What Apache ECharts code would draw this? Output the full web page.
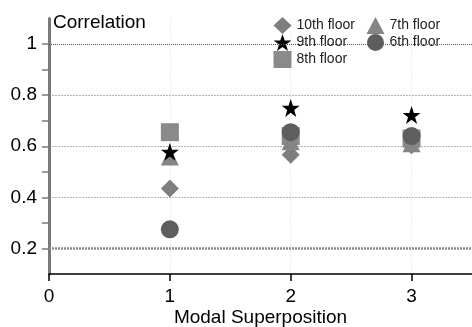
<!DOCTYPE html>
<html><head><meta charset="utf-8">
<script src="https://cdn.jsdelivr.net/npm/echarts@6/dist/echarts.min.js"></script>
<style>html,body{margin:0;padding:0;background:#fff}#c{width:472px;height:327px}</style>
</head><body><div id="c"></div>
<script>
const xValues = [1, 2, 3];
const floor10 = [0.435, 0.567, 0.604];
const floor9 = [0.578, 0.750, 0.722];
const floor8 = [0.655, 0.640, 0.630];
const floor7 = [0.560, 0.620, 0.612];
const floor6 = [0.275, 0.655, 0.640];
const yTickLabels = ['0.2', '0.4', '0.6', '0.8', '1'];
const yMinorTicks = [0.2, 0.3, 0.4, 0.5, 0.6, 0.7, 0.8, 0.9, 1.0];
const xTickLabels = ['0', '1', '2', '3'];
const refLines = [0.2, 1.0];

const STAR = 'path://M50,0 L61.8,34.5 L97.6,34.5 L68.5,55.9 L79.4,90.5 L50,69.1 L20.6,90.5 L31.5,55.9 L2.4,34.5 L38.2,34.5 Z';
const FONT = 'Liberation Sans, Arial, sans-serif';
const pts = arr => xValues.map((x, i) => [x, arr[i]]);

function s(name, data, symbol, size, color, z) {
  return { name, type: 'scatter', data: pts(data), symbol, symbolSize: size,
    itemStyle: { color, opacity: 1 }, z, emphasis: { disabled: true } };
}

const series = [
  s('10th floor', floor10, 'diamond', 18, '#7e7e7e', 2),
  s('8th floor', floor8, 'rect', 18, '#8a8a8a', 3),
  s('7th floor', floor7, 'triangle', 18, '#858585', 4),
  s('6th floor', floor6, 'circle', 18, '#5e5e5e', 5),
  s('9th floor', floor9, STAR, 18, '#000000', 6)
];
series[0].markLine = {
  silent: true, symbol: 'none', label: { show: false },
  data: [
    { yAxis: refLines[0], lineStyle: { color: '#8a8a8a', width: 2.5, type: [2, 1] } },
    { yAxis: refLines[1], lineStyle: { color: '#555', width: 1, type: [1, 1] } }
  ]
};

const chart = echarts.init(document.getElementById('c'), null, { renderer: 'canvas' });
const legendCommon = {
  orient: 'vertical', itemWidth: 18, itemHeight: 17, itemGap: 0,
  textStyle: { fontFamily: FONT, fontSize: 14, color: '#222', padding: [0, 0, 0, 0] },
  selectedMode: false
};
const xLabelVals = xTickLabels.map(Number);
const yLabelVals = yTickLabels.map(Number);
const T = 'rgba(0,0,0,0)', G = '#b5b5b5';
chart.setOption({
  animation: false,
  backgroundColor: '#fff',
  grid: { left: 49, right: 0, top: 18.5, bottom: 53, containLabel: false, outerBoundsMode: 'none' },
  graphic: [{ type: 'text', left: 53, top: 13, style: { text: 'Correlation', font: '19px ' + FONT, fill: '#000' } }],
  legend: [
    Object.assign({ left: 268.5, top: 12, data: ['10th floor', '9th floor', '8th floor'] }, legendCommon),
    Object.assign({ left: 361.5, top: 12, data: ['7th floor', '6th floor'] }, legendCommon)
  ],
  xAxis: {
    type: 'value', min: 0, max: 3.5, interval: 1,
    name: 'Modal Superposition', nameLocation: 'middle', nameGap: 34, nameMoveOverlap: false,
    nameTextStyle: { fontFamily: FONT, fontSize: 19, color: '#000', verticalAlign: 'top' },
    axisLine: { onZero: false, lineStyle: { color: '#000', width: 1.5 } },
    axisTick: { show: true, length: 7, customValues: xLabelVals, lineStyle: { color: '#000', width: 1.5 } },
    axisLabel: { fontFamily: FONT, fontSize: 19, color: '#000', margin: 13, customValues: xLabelVals,
      formatter: v => String(v) },
    splitLine: { show: true, lineStyle: { color: [T, '#dcdcdc', '#dcdcdc', '#dcdcdc', T], width: 1, type: [1, 2] } }
  },
  yAxis: {
    type: 'value', min: 0.1, max: 1.1, interval: 0.1,
    axisLine: { show: true, lineStyle: { color: '#7a7a7a', width: 3 } },
    axisTick: { show: true, length: 7, customValues: yMinorTicks, lineStyle: { color: '#7a7a7a', width: 1.5 } },
    axisLabel: { fontFamily: FONT, fontSize: 19, color: '#000', margin: 12, customValues: yLabelVals,
      formatter: v => String(Math.round(v * 10) / 10) },
    splitLine: { show: true, lineStyle: { width: 1, type: [2, 1],
      color: [T, T, G, T, G, T, G, T, T, T, T] } }
  },
  series
});
</script></body></html>
